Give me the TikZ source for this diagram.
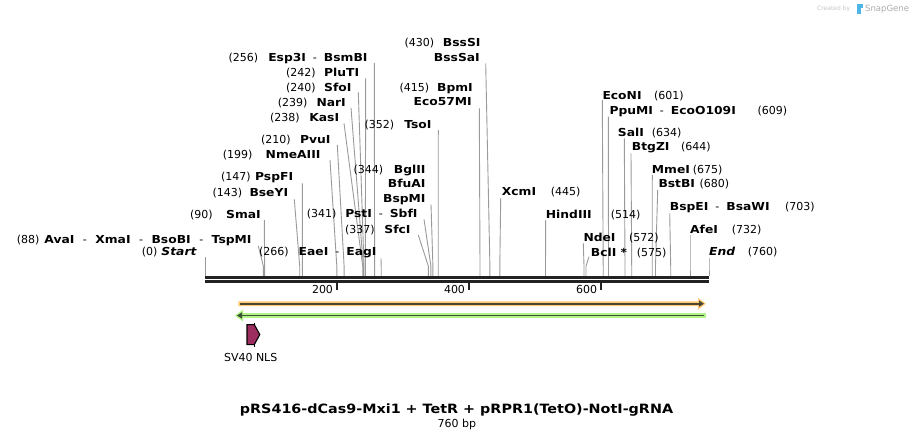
\documentclass[tikz,border=0pt]{standalone}
\usepackage{fontspec}
\setmainfont{DejaVu Sans}[BoldFeatures={FakeStretch=1.12},BoldItalicFeatures={FakeStretch=1.12}]
\usetikzlibrary{arrows.meta}
\definecolor{cutgray}{HTML}{9A9A9A}
\definecolor{barblack}{HTML}{222222}
\definecolor{orband}{HTML}{FFC873}
\definecolor{ordark}{HTML}{4A4632}
\definecolor{grband}{HTML}{B4F28A}
\definecolor{grdark}{HTML}{3C5230}
\definecolor{nlsfill}{HTML}{9B2D5F}
\definecolor{sgblue}{HTML}{4DB6E6}
\tikzset{
  num/.style={inner sep=0pt, font=\fontsize{11}{13}\selectfont},
  enz/.style={inner sep=0pt, font=\fontsize{11}{13}\selectfont\bfseries},
  enzi/.style={inner sep=0pt, font=\fontsize{11}{13}\selectfont\bfseries\itshape},
  cut/.style={draw=cutgray, line width=0.9pt},
  tick/.style={draw=barblack, line width=2pt},
}
\newcommand{\dsh}{\hspace{7pt}\mdseries-\hspace{7pt}\bfseries}
\newcommand{\dshw}{\hspace{8.5pt}\mdseries-\hspace{8.5pt}\bfseries}
\begin{document}
\begin{tikzpicture}[x=1pt,y=-1pt]
\useasboundingbox (0,0) rectangle (914,439);
\fill[white] (0,0) rectangle (914,439);

% ---- cut lines ----
\foreach \sx/\sy/\bx [count=\i] in {
 374.3/63/374.6, 365.7/78/365.3, 358.3/92.3/364.0, 351/107.7/363.3, 344/123.3/362.7,
 337.3/145/344.1, 330/160/336.8, 302.3/183.3/302.4, 294.3/199.3/299.7, 264.3/220/264.6,
 258.3/246/263.3, 205.5/257.3/205.5, 381/258.3/381.2, 418.3/235/428.3, 424/219.3/430.9,
 431/204.3/432.9, 438.3/130/438.2, 479.3/108.3/480, 485.7/63.3/489.9, 500.7/198.3/499.8,
 545.7/220/545.5, 583.3/243.3/584, 589/256.7/586, 602.3/100/603.2, 608.3/116.7/608.5,
 624.3/138.3/625, 631/153.3/631.7, 652.3/175/652.2, 657.7/190/655.5, 669.7/213.3/670.7,
 690/235/690, 709/258.3/709}
 {
  \coordinate (s\i) at (\sx,\sy);
  \coordinate (k\i) at (\bx,266);
  \coordinate (b\i) at (\bx,276);
  \draw[cut] (s\i) -- (k\i) -- (b\i);
 }

% ---- sequence bar ----
\coordinate (barL) at (205,277.3);
\coordinate (barR) at (709,277.3);
\coordinate (barL2) at (205,281.4);
\coordinate (barR2) at (709,281.4);
\draw[barblack, line width=2.6pt] (barL) -- (barR);
\draw[barblack, line width=2.6pt] (barL2) -- (barR2);

\foreach \x/\t in {336.7/200, 468.7/400, 600.7/600}{
  \draw[tick] (\x,282.5) -- (\x,290.2);
  \node[num, anchor=base east] (tk\t) at (\x-3.5,293.2) {\t};
}

% ---- left labels (names anchored at their right end) ----
\node[num,anchor=base west] (n1) at (228.3,61.3) {(256)};
\node[enz,anchor=base east] (e1) at (367.7,61.3) {Esp3I\dsh BsmBI};
\node[num,anchor=base west] (n2) at (286,76.3) {(242)};
\node[enz,anchor=base east] (e2) at (359.3,76.3) {PluTI};
\node[num,anchor=base west] (n3) at (286,91.3) {(240)};
\node[enz,anchor=base east] (e3) at (351.7,91.3) {SfoI};
\node[num,anchor=base west] (n4) at (277.7,106) {(239)};
\node[enz,anchor=base east] (e4) at (346,106) {NarI};
\node[num,anchor=base west] (n5) at (270,121.3) {(238)};
\node[enz,anchor=base east] (e5) at (339.3,121.3) {KasI};
\node[num,anchor=base west] (n6) at (261,143.3) {(210)};
\node[enz,anchor=base east] (e6) at (330.7,143.3) {PvuI};
\node[num,anchor=base west] (n7) at (222.7,158.3) {(199)};
\node[enz,anchor=base east] (e7) at (320.7,158.3) {NmeAIII};
\node[num,anchor=base west] (n8) at (221,180.7) {(147)};
\node[enz,anchor=base east] (e8) at (293.3,180.7) {PspFI};
\node[num,anchor=base west] (n9) at (212.3,196.3) {(143)};
\node[enz,anchor=base east] (e9) at (288.3,196.3) {BseYI};
\node[num,anchor=base west] (n10) at (190,218.3) {(90)};
\node[enz,anchor=base east] (e10) at (261,218.3) {SmaI};
\node[num,anchor=base west] (n11) at (16.7,243.3) {(88)};
\node[enz,anchor=base east] (e11) at (251.7,243.3) {AvaI\dshw XmaI\dshw BsoBI\dshw TspMI};
\node[num,anchor=base west] (n12) at (141.7,255) {(0)};
\node[enzi,anchor=base east] (e12) at (196.7,255) {Start};
\node[num,anchor=base west] (n13) at (259,255.5) {(266)};
\node[enz,anchor=base east] (e13) at (376.7,255.5) {EaeI\dsh EagI};
\node[num,anchor=base west] (n14) at (345,233) {(337)};
\node[enz,anchor=base east] (e14) at (410.7,233) {SfcI};
\node[num,anchor=base west] (n15) at (306.7,217.3) {(341)};
\node[enz,anchor=base east] (e15) at (417.7,217.3) {PstI\dsh SbfI};
\node[num,anchor=base west] (n16) at (353.3,173.3) {(344)};
\node[enz,anchor=base east] (e16a) at (425.7,173.3) {BglII};
\node[enz,anchor=base east] (e16b) at (425.7,187.3) {BfuAI};
\node[enz,anchor=base east] (e16c) at (425.7,202.3) {BspMI};
\node[num,anchor=base west] (n17) at (364.3,128.3) {(352)};
\node[enz,anchor=base east] (e17) at (431.7,128.3) {TsoI};
\node[num,anchor=base west] (n18) at (399.3,91.3) {(415)};
\node[enz,anchor=base east] (e18a) at (473,91.3) {BpmI};
\node[enz,anchor=base east] (e18b) at (472,105.7) {Eco57MI};
\node[num,anchor=base west] (n19) at (404.3,46.3) {(430)};
\node[enz,anchor=base east] (e19a) at (480.7,46.3) {BssSI};
\node[enz,anchor=base east] (e19b) at (480,61.3) {BssSaI};

% ---- right labels (names anchored at their left end) ----
\node[enz,anchor=base west] (e20) at (501.7,195.7) {XcmI};
\node[num,anchor=base west] (n20) at (550.7,195.7) {(445)};
\node[enz,anchor=base west] (e21) at (545.7,218) {HindIII};
\node[num,anchor=base west] (n21) at (610.7,218) {(514)};
\node[enz,anchor=base west] (e22) at (583.3,241.3) {NdeI};
\node[num,anchor=base west] (n22) at (629,241.3) {(572)};
\node[enz,anchor=base west] (e23) at (590.7,256.3) {BclI *};
\node[num,anchor=base west] (n23) at (636.7,256.3) {(575)};
\node[enz,anchor=base west] (e24) at (602.3,99) {EcoNI};
\node[num,anchor=base west] (n24) at (654,99) {(601)};
\node[enz,anchor=base west] (e25) at (609.3,114.7) {PpuMI\dsh EcoO109I};
\node[num,anchor=base west] (n25) at (757.3,114.7) {(609)};
\node[enz,anchor=base west] (e26) at (617.7,136.7) {SalI};
\node[num,anchor=base west] (n26) at (651.7,136.7) {(634)};
\node[enz,anchor=base west] (e27) at (631.7,150.7) {BtgZI};
\node[num,anchor=base west] (n27) at (681,150.7) {(644)};
\node[enz,anchor=base west] (e28) at (651.7,173) {MmeI};
\node[num,anchor=base west] (n28) at (692.7,173) {(675)};
\node[enz,anchor=base west] (e29) at (658.3,187.3) {BstBI};
\node[num,anchor=base west] (n29) at (699.3,187.3) {(680)};
\node[enz,anchor=base west] (e30) at (669.7,210) {BspEI\dsh BsaWI};
\node[num,anchor=base west] (n30) at (785,210) {(703)};
\node[enz,anchor=base west] (e31) at (690,233) {AfeI};
\node[num,anchor=base west] (n31) at (731.7,233) {(732)};
\node[enzi,anchor=base west] (e32) at (709,255.7) {End};
\node[num,anchor=base west] (n32) at (747.7,255.7) {(760)};

% ---- features ----
% orange (forward)
\fill[orband] (238.3,301.4) -- (698,301.4) -- (698,297.8) -- (705.8,303.7) -- (698,309.6) -- (698,306) -- (238.3,306) -- cycle;
\draw[ordark, line width=1.9pt, -{Triangle[length=5pt,width=6pt]}] (240,303.7) -- (704,303.7);
% green (reverse)
\fill[grband] (705.8,313.1) -- (243,313.1) -- (243,309.5) -- (235,315.5) -- (243,321.5) -- (243,317.9) -- (705.8,317.9) -- cycle;
\draw[grdark, line width=1.9pt, -{Triangle[length=5pt,width=6pt]}] (704,315.5) -- (237,315.5);
% SV40 NLS
\draw[black, line width=1.1pt, fill=nlsfill] (247,324.6) -- (254.3,324.6) -- (259.8,334.6) -- (254.3,344.6) -- (247,344.6) -- cycle;
\draw[black, line width=0.9pt] (254.3,322.8) -- (254.3,324.6) (254.3,344.6) -- (254.3,346.6);
\node[num, anchor=base] (nls) at (250.7,361.7) {SV40 NLS};

% ---- title ----
\node[inner sep=0pt, anchor=base, font=\fontsize{12.8}{15}\selectfont\bfseries] (title) at (456.5,413.8) {pRS416-dCas9-Mxi1 + TetR + pRPR1(TetO)-NotI-gRNA};
\node[num, anchor=base] (bp) at (456.8,427.3) {760 bp};

% ---- watermark ----
\node[inner sep=0pt, anchor=base west, text=gray!45, font=\fontsize{6}{7}\selectfont] (cr) at (817,10.5) {Created by};
\fill[sgblue] (857,3.5) rectangle (860.5,13.5);
\fill[sgblue] (860.5,3.5) rectangle (862.5,8);
\node[inner sep=0pt, anchor=base west, text=gray!65, font=\fontsize{8.5}{9}\selectfont] (sg) at (865,11.5) {SnapGene};
\end{tikzpicture}
\end{document}
